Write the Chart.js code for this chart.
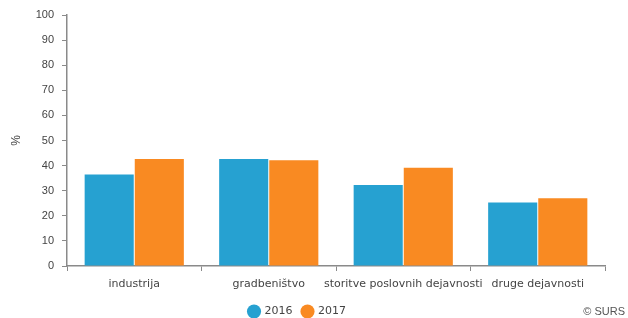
<!DOCTYPE html>
<html>
<head>
<meta charset="utf-8">
<script src="https://cdn.jsdelivr.net/npm/chart.js@4.4.1/dist/chart.umd.min.js"></script>
<style>
  html, body { margin: 0; padding: 0; background: #fff; }
  #wrap { width: 628px; height: 318px; position: relative; }
</style>
</head>
<body>
<div id="wrap"><canvas id="chart" width="628" height="318"></canvas></div>
<script>
// podatki
const kategorije = ['industrija', 'gradbeništvo', 'storitve poslovnih dejavnosti', 'druge dejavnosti'];
const leta = ['2016', '2017'];
const vrednosti2016 = [36.5, 42.6, 32.3, 25.3];
const vrednosti2017 = [42.6, 42.1, 39.1, 27.0];
const barve = ['#26a1d1', '#f98a22'];
const yMin = 0, yMax = 100, yKorak = 10;

// napis © SURS spodaj desno + zamaknjena legenda
const virPlugin = {
    id: 'vir',
    afterLayout(chart) {
        const lg = chart.legend;
        if (lg) {
            lg.left -= 5; lg.right -= 5;
            lg.top -= 7; lg.bottom -= 7;
        }
    },
    afterDraw(chart) {
        const c = chart.ctx;
        c.save();
        c.font = '11px "Liberation Sans", Arial, sans-serif';
        c.fillStyle = '#555';
        c.textAlign = 'right';
        c.textBaseline = 'middle';
        c.fillText('© SURS', 625, 312);
        c.restore();
    }
};

const ctx = document.getElementById('chart').getContext('2d');
new Chart(ctx, {
    type: 'bar',
    data: {
        labels: kategorije,
        datasets: [
            { label: leta[0], data: vrednosti2016, backgroundColor: barve[0] },
            { label: leta[1], data: vrednosti2017, backgroundColor: barve[1] }
        ]
    },
    options: {
        responsive: false,
        animation: false,
        datasets: { bar: { categoryPercentage: 0.745, barPercentage: 0.98 } },
        layout: { padding: { top: 15, right: 23, left: 0, bottom: -16 } },
        plugins: {
            tooltip: { enabled: false },
            legend: {
                position: 'bottom',
                labels: {
                    usePointStyle: true,
                    pointStyle: 'circle',
                    boxWidth: 10,
                    boxHeight: 10,
                    padding: 10,
                    color: '#444',
                    font: { family: '"DejaVu Sans", Verdana, sans-serif', size: 11 }
                }
            }
        },
        scales: {
            x: {
                grid: { offset: true, drawOnChartArea: false, color: '#8a8a8a', tickLength: 5 },
                border: { color: '#8a8a8a', width: 1.5 },
                ticks: {
                    color: '#444',
                    padding: 7,
                    maxRotation: 0,
                    autoSkip: false,
                    font: { family: '"DejaVu Sans", Verdana, sans-serif', size: 11 }
                },
                afterFit(s) { s.height = 37; }
            },
            y: {
                min: yMin,
                max: yMax,
                ticks: {
                    stepSize: yKorak,
                    color: '#444',
                    padding: 8,
                    font: { family: '"Liberation Sans", Arial, sans-serif', size: 11 }
                },
                grid: { drawOnChartArea: false, color: '#8a8a8a', tickLength: 5 },
                border: { color: '#8a8a8a', width: 1.5 },
                title: {
                    display: true,
                    text: '%',
                    color: '#444',
                    padding: { top: 9, bottom: 0 },
                    font: { family: '"Liberation Sans", Arial, sans-serif', size: 12 }
                },
                afterFit(s) { s.width = 67; }
            }
        }
    },
    plugins: [virPlugin]
});
</script>
</body>
</html>
